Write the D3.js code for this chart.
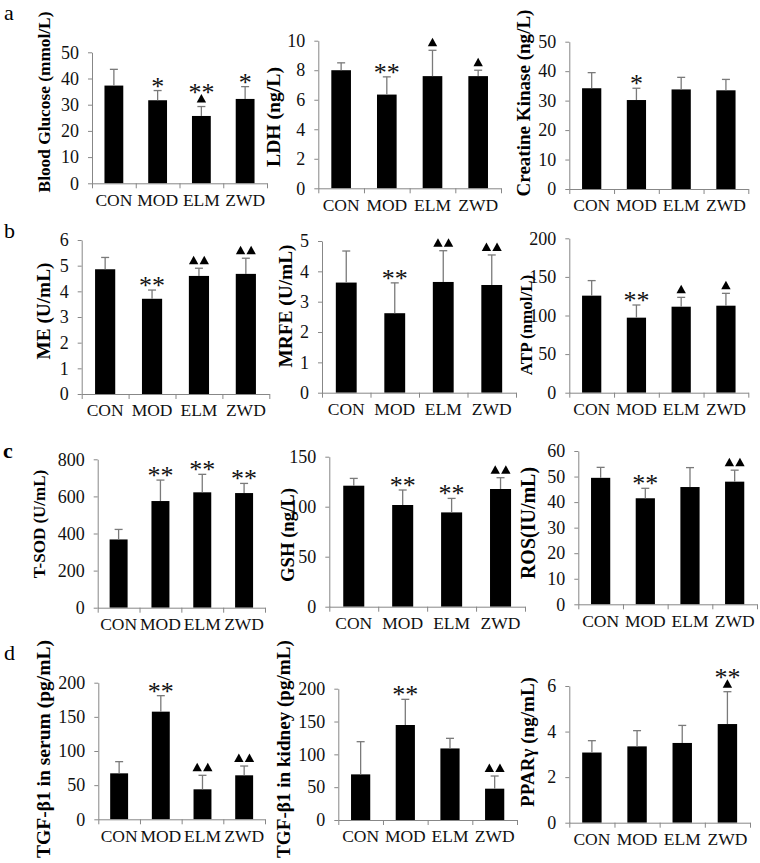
<!DOCTYPE html>
<html>
<head>
<meta charset="utf-8">
<title>Biochemical indices | D3</title>
<script src="https://d3js.org/d3.v7.min.js"></script>
<style>
  body { margin: 0; background: #fff; }
  svg text { font-family: "Liberation Serif", "Times New Roman", serif; }
</style>
</head>
<body>
<script>
// groups on every x axis
var groups = ["CON", "MOD", "ELM", "ZWD"];

// values (mean) and the upper error bars (sd)
var bloodGlucose   = [37.3, 31.7, 25.7, 32.2];
var bloodGlucoseSd = [6.2, 3.7, 3.6, 4.7];
var ldh   = [8.0, 6.35, 7.6, 7.6];
var ldhSd = [0.5, 1.2, 1.75, 0.4];
var ck    = [34.2, 30.2, 33.8, 33.5];
var ckSd  = [5.3, 4.0, 4.1, 3.7];
var me    = [4.86, 3.71, 4.6, 4.68];
var meSd  = [0.46, 0.34, 0.3, 0.61];
var mrfe   = [3.63, 2.62, 3.65, 3.55];
var mrfeSd = [1.04, 1.0, 1.03, 0.99];
var atp   = [125.7, 97.2, 111.4, 112.7];
var atpSd = [19.5, 16.4, 12.1, 16.0];
var tsod   = [368, 575, 622, 618];
var tsodSd = [54, 113, 97, 52];
var gsh   = [121, 101.7, 94.3, 117.7];
var gshSd = [7.3, 15, 14, 11.3];
var ros   = [49.5, 41.5, 45.9, 48];
var rosSd = [4.1, 3.9, 7.6, 4.5];
var tgfSerum   = [67.3, 157.6, 43.9, 64.4];
var tgfSerumSd = [17.1, 23.4, 20.5, 13.6];
var tgfKidney   = [69.5, 144.7, 109, 47.7];
var tgfKidneySd = [49.8, 39.1, 15.4, 19.3];
var ppar   = [3.08, 3.35, 3.5, 4.33];
var pparSd = [0.52, 0.69, 0.77, 1.42];

// significance marks: number of * (vs CON) and of triangles (vs MOD)
var starsA1 = [0, 1, 2, 1], trisA1 = [0, 0, 1, 0];
var starsA2 = [0, 2, 0, 0], trisA2 = [0, 0, 1, 1];
var starsA3 = [0, 1, 0, 0], trisA3 = [0, 0, 0, 0];
var starsB1 = [0, 2, 0, 0], trisB1 = [0, 0, 2, 2];
var starsB2 = [0, 2, 0, 0], trisB2 = [0, 0, 2, 2];
var starsB3 = [0, 2, 0, 0], trisB3 = [0, 0, 1, 1];
var starsC1 = [0, 2, 2, 2], trisC1 = [0, 0, 0, 0];
var starsC2 = [0, 2, 2, 0], trisC2 = [0, 0, 0, 2];
var starsC3 = [0, 2, 0, 0], trisC3 = [0, 0, 0, 2];
var starsD1 = [0, 2, 0, 0], trisD1 = [0, 0, 2, 2];
var starsD2 = [0, 2, 0, 0], trisD2 = [0, 0, 0, 2];
var starsD3 = [0, 0, 0, 2], trisD3 = [0, 0, 0, 1];

// y axis ticks of each panel
var ticksA1 = [0, 10, 20, 30, 40, 50];
var ticksA2 = [0, 2, 4, 6, 8, 10];
var ticksA3 = [0, 10, 20, 30, 40, 50];
var ticksB1 = [0, 1, 2, 3, 4, 5, 6];
var ticksB2 = [0, 1, 2, 3, 4, 5];
var ticksB3 = [0, 50, 100, 150, 200];
var ticksC1 = [0, 200, 400, 600, 800];
var ticksC2 = [0, 50, 100, 150];
var ticksC3 = [0, 10, 20, 30, 40, 50, 60];
var ticksD1 = [0, 50, 100, 150, 200];
var ticksD2 = [0, 50, 100, 150, 200];
var ticksD3 = [0, 2, 4, 6];

// panel layout (plot box in page pixels, title placement)
var panels = [
  {title: "Blood Glucose (mmol/L)", mean: bloodGlucose, sd: bloodGlucoseSd, stars: starsA1, tris: trisA1, ticks: ticksA1,
   x0: 92, x1: 267, y0: 183.3, yT: 52.3, tx: 50, ty: 102, tlen: 181},
  {title: "LDH (ng/L)", mean: ldh, sd: ldhSd, stars: starsA2, tris: trisA2, ticks: ticksA2,
   x0: 318.3, x1: 501, y0: 188.3, yT: 40.7, tx: 280, ty: 117, tlen: 100},
  {title: "Creatine Kinase (ng/L)", mean: ck, sd: ckSd, stars: starsA3, tris: trisA3, ticks: ticksA3,
   x0: 569.3, x1: 748.3, y0: 189, yT: 41.7, tx: 530, ty: 103, tlen: 187},
  {title: "ME (U/mL)", mean: me, sd: meSd, stars: starsB1, tris: trisB1, ticks: ticksB1,
   x0: 81.7, x1: 269.3, y0: 394, yT: 240, tx: 50, ty: 311, tlen: 97},
  {title: "MRFE (U/mL)", mean: mrfe, sd: mrfeSd, stars: starsB2, tris: trisB2, ticks: ticksB2,
   x0: 322, x1: 516, y0: 392.7, yT: 241, tx: 292, ty: 306, tlen: 123},
  {title: "ATP (nmol/L)", mean: atp, sd: atpSd, stars: starsB3, tris: trisB3, ticks: ticksB3,
   x0: 569.3, x1: 748.3, y0: 392.7, yT: 238.3, tx: 532, ty: 325, tlen: 100},
  {title: "T-SOD (U/mL)", mean: tsod, sd: tsodSd, stars: starsC1, tris: trisC1, ticks: ticksC1,
   x0: 97.7, x1: 265, y0: 607.7, yT: 459.3, tx: 45, ty: 524, tlen: 108},
  {title: "GSH (ng/L)", mean: gsh, sd: gshSd, stars: starsC2, tris: trisC2, ticks: ticksC2,
   x0: 329.3, x1: 525, y0: 606.7, yT: 456.7, tx: 294, ty: 535, tlen: 94},
  {title: "ROS(IU/mL)", mean: ros, sd: rosSd, stars: starsC3, tris: trisC3, ticks: ticksC3,
   x0: 578.3, x1: 757, y0: 604.3, yT: 451, tx: 535, ty: 523, tlen: 117},
  {title: "TGF-β1 in serum (pg/mL)", mean: tgfSerum, sd: tgfSerumSd, stars: starsD1, tris: trisD1, ticks: ticksD1,
   x0: 98.3, x1: 265, y0: 819.3, yT: 682.7, tx: 50, ty: 749, tlen: 218},
  {title: "TGF-β1 in kidney (pg/mL)", mean: tgfKidney, sd: tgfKidneySd, stars: starsD2, tris: trisD2, ticks: ticksD2,
   x0: 338.3, x1: 517, y0: 820, yT: 688.7, tx: 290, ty: 749, tlen: 218},
  {title: "PPARγ (ng/mL)", mean: ppar, sd: pparSd, stars: starsD3, tris: trisD3, ticks: ticksD3,
   x0: 569.3, x1: 750, y0: 822.7, yT: 686, tx: 534, ty: 742, tlen: 130}
];

var letters = [
  {t: "a", x: 4, y: 20, bold: false},
  {t: "b", x: 4, y: 238, bold: false},
  {t: "c", x: 3, y: 458, bold: true},
  {t: "d", x: 4, y: 660, bold: false}
];

var axisColor = "#878787";
var errColor = "#7a7a7a";

var svg = d3.select("body").append("svg")
  .attr("width", 760)
  .attr("height", 863);

svg.selectAll("text.letter")
  .data(letters)
  .enter().append("text")
  .attr("class", "letter")
  .attr("x", function(d) { return d.x; })
  .attr("y", function(d) { return d.y; })
  .attr("font-size", 22)
  .attr("font-weight", function(d) { return d.bold ? "bold" : "normal"; })
  .text(function(d) { return d.t; });

panels.forEach(function(p) {
  var g = svg.append("g");
  var ymax = p.ticks[p.ticks.length - 1];

  var x = d3.scaleBand().domain(groups).range([p.x0, p.x1])
    .paddingInner(0.57).paddingOuter(0.285);
  var y = d3.scaleLinear().domain([0, ymax]).range([p.y0, p.yT]);
  var xb = d3.scaleLinear().domain([0, groups.length]).range([p.x0, p.x1]);

  // bars
  g.selectAll("rect")
    .data(p.mean)
    .enter().append("rect")
    .attr("x", function(d, i) { return x(groups[i]); })
    .attr("width", x.bandwidth())
    .attr("y", function(d) { return y(d); })
    .attr("height", function(d) { return y(0) - y(d); })
    .attr("fill", "#000");

  // upper error bars
  var err = g.selectAll("g.err")
    .data(p.mean)
    .enter().append("g")
    .attr("class", "err")
    .attr("stroke", errColor)
    .attr("stroke-width", 1.3);
  err.append("line")
    .attr("x1", function(d, i) { return x(groups[i]) + x.bandwidth() / 2; })
    .attr("x2", function(d, i) { return x(groups[i]) + x.bandwidth() / 2; })
    .attr("y1", function(d) { return y(d); })
    .attr("y2", function(d, i) { return y(d + p.sd[i]); });
  err.append("line")
    .attr("x1", function(d, i) { return x(groups[i]) + x.bandwidth() / 2 - 4; })
    .attr("x2", function(d, i) { return x(groups[i]) + x.bandwidth() / 2 + 4; })
    .attr("y1", function(d, i) { return y(d + p.sd[i]); })
    .attr("y2", function(d, i) { return y(d + p.sd[i]); });

  // y axis
  var ya = g.append("g")
    .attr("transform", "translate(" + p.x0 + ",0)")
    .call(d3.axisLeft(y).tickValues(p.ticks).tickFormat(d3.format("d"))
      .tickSize(4).tickSizeOuter(0).tickPadding(9));
  // x axis line with ticks at group boundaries
  var xa = g.append("g")
    .attr("transform", "translate(0," + p.y0 + ")")
    .call(d3.axisBottom(xb).tickValues(d3.range(groups.length + 1)).tickFormat("")
      .tickSize(5).tickSizeOuter(0));
  // group labels
  var xl = g.append("g")
    .attr("transform", "translate(0," + p.y0 + ")")
    .call(d3.axisBottom(x).tickSize(0).tickPadding(10));
  xl.select(".domain").remove();

  [ya, xa].forEach(function(a) {
    a.select(".domain").attr("stroke", axisColor);
    a.selectAll(".tick line").attr("stroke", axisColor);
  });
  [ya, xa, xl].forEach(function(a) {
    a.attr("font-family", null).attr("font-size", null);
  });
  ya.selectAll("text").attr("fill", "#111").attr("font-size", 18);
  xl.selectAll("text").attr("fill", "#111").attr("font-size", 17.5);

  // significance marks stacked above each error bar
  p.mean.forEach(function(m, i) {
    var cx = x(groups[i]) + x.bandwidth() / 2;
    var top = y(m + p.sd[i]) - 4;
    var nt = p.tris[i];
    if (nt > 0) {
      var offs = nt === 1 ? [0] : [-5.3, 5.3];
      offs.forEach(function(o) {
        g.append("path")
          .attr("d", "M" + (cx + o - 4.7) + "," + top + "L" + (cx + o + 4.7) + "," + top +
            "L" + (cx + o) + "," + (top - 8.5) + "Z")
          .attr("fill", "#000");
      });
      top -= 9.5;
    }
    if (p.stars[i] > 0) {
      g.append("text")
        .attr("x", cx)
        .attr("y", top + 8)
        .attr("text-anchor", "middle")
        .attr("font-size", 26)
        .attr("fill", "#111")
        .text(p.stars[i] === 1 ? "*" : "**");
    }
  });

  // y title, sized to the length it has in the figure
  var t = g.append("text")
    .attr("transform", "translate(" + p.tx + "," + p.ty + ") rotate(-90)")
    .attr("text-anchor", "middle")
    .attr("font-weight", "bold")
    .attr("font-size", 18)
    .text(p.title);
  var len = t.node().getComputedTextLength();
  var fs = Math.max(17, Math.min(20, 18 * p.tlen / len));
  t.attr("font-size", fs);
});
</script>
</body>
</html>
